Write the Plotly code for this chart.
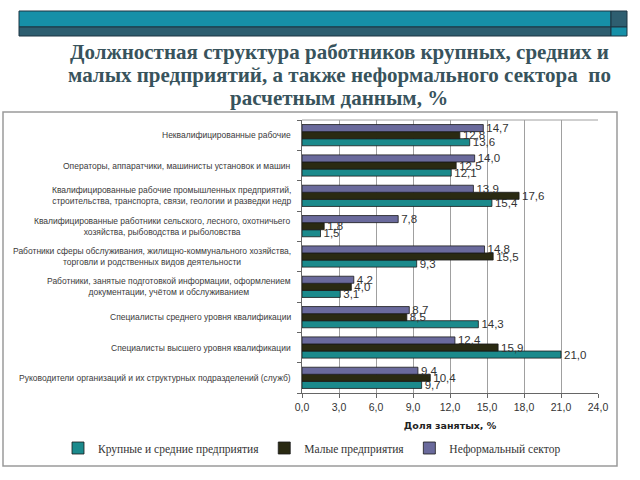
import plotly.graph_objects as go

# ---------------- data ----------------
categories = [
    "Неквалифицированные рабочие",
    "Операторы, аппаратчики, машинисты установок и машин",
    "Квалифицированные рабочие промышленных предприятий,<br>строительства, транспорта, связи, геологии и разведки недр",
    "Квалифицированные работники сельского, лесного, охотничьего<br>хозяйства, рыбоводства и рыболовства",
    "Работники сферы обслуживания, жилищно-коммунального хозяйства,<br>торговли и родственных видов деятельности",
    "Работники, занятые подготовкой информации, оформлением<br>документации, учётом и обслуживанием",
    "Специалисты среднего уровня квалификации",
    "Специалисты высшего уровня квалификации",
    "Руководители организаций и их структурных подразделений (служб)",
]
series_names = ["Крупные и средние предприятия", "Малые предприятия", "Неформальный сектор"]
large_medium = [13.6, 12.1, 15.4, 1.5, 9.3, 3.1, 14.3, 21.0, 9.7]
small = [12.8, 12.5, 17.6, 1.8, 15.5, 4.0, 8.5, 15.9, 10.4]
informal = [14.7, 14.0, 13.9, 7.8, 14.8, 4.2, 8.7, 12.4, 9.4]
x_ticks = [0, 3, 6, 9, 12, 15, 18, 21, 24]

title_lines = [
    "Должностная структура работников крупных, средних и",
    "малых предприятий, а также неформального сектора  по",
    "расчетным данным, %",
]
x_title = "Доля занятых, %"

colors = ["#1b8a8c", "#2a2a12", "#6a6a9c"]

# ---------------- layout geometry (pixels) ----------------
W, H = 640, 480
PL, PR, PT, PB = 302, 598, 120, 393


def px(xp):
    return (xp - PL) / (PR - PL)


def py(yp):
    return (PB - yp) / (PB - PT)


fig = go.Figure()
for name, vals, col in zip(series_names, [large_medium, small, informal], colors):
    fig.add_trace(go.Bar(
        y=categories, x=vals, name=name, orientation="h",
        marker=dict(color=col, line=dict(color="#1a1a1a", width=0.8)),
        texttemplate="%{x:.1f}", textposition="outside",
        constraintext="none", cliponaxis=False,
        textfont=dict(family="Liberation Sans, Arial", size=11.5, color="#333333"),
    ))

shapes = []
# outer chart box
shapes.append(dict(type="rect", xref="paper", yref="paper", layer="below",
                   x0=px(3), x1=px(617), y0=py(466), y1=py(112),
                   line=dict(color="#9a9a9a", width=1.5), fillcolor="white"))
# plot area border (top)
shapes.append(dict(type="line", xref="paper", yref="paper", layer="below",
                   x0=0, x1=1, y0=1, y1=1, line=dict(color="#a0a0a0", width=1)))
# header bar
teal, dark, edge = "#1690a8", "#2e5e70", "#1c3442"
shapes += [
    dict(type="rect", xref="paper", yref="paper", x0=px(19), x1=px(611), y0=py(27), y1=py(11),
         fillcolor=teal, line=dict(color=edge, width=1)),
    dict(type="rect", xref="paper", yref="paper", x0=px(19), x1=px(611), y0=py(36), y1=py(27),
         fillcolor=dark, line=dict(color=edge, width=1)),
    dict(type="rect", xref="paper", yref="paper", x0=px(611), x1=px(627), y0=py(27), y1=py(11),
         fillcolor=dark, line=dict(color=edge, width=1)),
    dict(type="rect", xref="paper", yref="paper", x0=px(611), x1=px(627), y0=py(36), y1=py(27),
         fillcolor=teal, line=dict(color=edge, width=1)),
]

annotations = []
for line, yc in zip(title_lines, [52, 75, 98]):
    annotations.append(dict(
        text=line, xref="paper", yref="paper", x=px(339), y=py(yc),
        xanchor="center", yanchor="middle", showarrow=False, align="center",
        font=dict(family="Liberation Serif, Times New Roman", size=21, color="#38535c", weight="bold"),
    ))
for c in categories:
    annotations.append(dict(
        text=c, xref="paper", yref="y", x=px(293), y=c, xanchor="right", yanchor="middle",
        showarrow=False, align="center",
        font=dict(family="Liberation Sans, Arial", size=8.5, color="#3a3a3a"),
    ))

fig.update_layout(
    width=W, height=H,
    margin=dict(l=PL, r=W - PR, t=PT, b=H - PB, pad=0, autoexpand=False),
    paper_bgcolor="white", plot_bgcolor="white",
    barmode="group", bargap=0.3, bargroupgap=0,
    separators=", ",
    shapes=shapes, annotations=annotations,
    showlegend=True,
    legend=dict(orientation="h", xref="paper", yref="paper",
                x=px(58), y=py(448), xanchor="left", yanchor="middle",
                font=dict(family="Liberation Serif, Times New Roman", size=11.5, color="#333333"),
                itemwidth=30, bgcolor="rgba(0,0,0,0)"),
    xaxis=dict(range=[0, 24], tickvals=x_ticks, tickformat=".1f",
               showgrid=True, gridcolor="#a0a0a0", gridwidth=1,
               showline=True, linecolor="#666666", linewidth=1,
               ticks="outside", ticklen=4, tickcolor="#666666",
               tickfont=dict(family="Liberation Sans, Arial", size=10.5, color="#333333"),
               zeroline=False,
               title=dict(text=x_title, standoff=10,
                          font=dict(family="DejaVu Sans", size=9.5, color="#222222", weight="bold"))),
    yaxis=dict(categoryorder="array", categoryarray=categories[::-1],
               showticklabels=False, showgrid=False,
               showline=True, linecolor="#666666", linewidth=1,
               ticks="outside", ticklen=4, tickcolor="#666666", tickson="boundaries"),
)

fig.write_html("out.html")
